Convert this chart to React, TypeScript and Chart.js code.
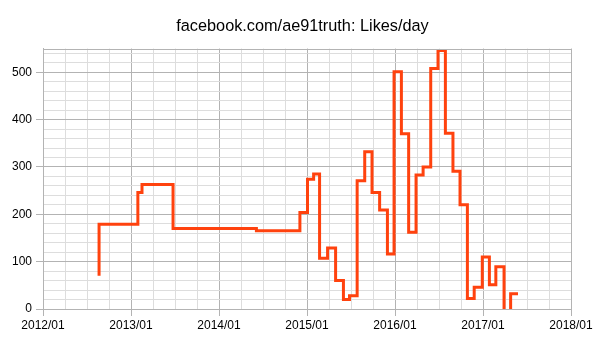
import React, { useEffect, useRef } from "react";
import { Chart, registerables } from "chart.js";

Chart.register(...registerables);

const chartTitle = "facebook.com/ae91truth: Likes/day";
const startYear = 2012;
const endYear = 2018;

// dates at the end of each measuring interval
const sampleDates = [
  "2012-08-21", "2013-01-30", "2013-02-15", "2013-06-23", "2014-06-04",
  "2014-12-02", "2015-01-03", "2015-01-29", "2015-02-21", "2015-03-26",
  "2015-04-28", "2015-05-31", "2015-06-25", "2015-07-27", "2015-08-28",
  "2015-09-27", "2015-10-29", "2015-11-30", "2015-12-28", "2016-01-28",
  "2016-02-26", "2016-03-28", "2016-04-26", "2016-05-28", "2016-06-27",
  "2016-07-28", "2016-08-29", "2016-09-27", "2016-10-28", "2016-11-25",
  "2016-12-29", "2017-01-28", "2017-02-22", "2017-03-28", "2017-04-24",
  "2017-05-25",
];

// likes per day over the interval ending at each date
const likesPerDay = [
  70, 179, 246, 263, 170,
  165, 204, 274, 285, 107,
  129, 60, 20, 28, 271,
  332, 246, 209, 116, 501,
  370, 162, 283, 300, 508,
  546, 371, 291, 220, 22,
  46, 110, 51, 89, -8,
  32,
];

const yMax = 550;

function toMonths(s: string): number {
  const [y, m, d] = s.split("-").map(Number);
  const dim = new Date(y, m, 0).getDate();
  return (y - startYear) * 12 + (m - 1) + (d - 1) / dim;
}

const MAJOR = "#b3b3b3";
const MINOR = "#dddddd";

const frameTop = {
  id: "frameTop",
  afterDraw(chart: any) {
    const { ctx, chartArea } = chart;
    ctx.save();
    ctx.strokeStyle = MAJOR;
    ctx.lineWidth = 1;
    const y = Math.round(chartArea.top) + 0.5;
    ctx.beginPath();
    ctx.moveTo(chartArea.left, y);
    ctx.lineTo(chartArea.right, y);
    ctx.stroke();
    ctx.restore();
  },
};

export default function App() {
  const ref = useRef<HTMLCanvasElement | null>(null);
  useEffect(() => {
    if (!ref.current) return;
    Chart.defaults.font.family = '"Liberation Sans", Arial, sans-serif';
    Chart.defaults.color = "#000";
    const points = sampleDates.map((d, i) => ({ x: toMonths(d), y: likesPerDay[i] }));
    const chart = new Chart(ref.current, {
      type: "line",
      data: {
        datasets: [
          {
            data: points,
            borderColor: "#ff420e",
            borderWidth: 3,
            pointRadius: 0,
            stepped: "after",
            fill: false,
          },
        ],
      },
      options: {
        animation: false,
        responsive: true,
        maintainAspectRatio: false,
        layout: { padding: 0 },
        plugins: {
          legend: { display: false },
          tooltip: { enabled: false },
          title: {
            display: true,
            text: chartTitle,
            color: "#000",
            font: { size: 16.3, weight: "normal" },
            padding: { top: 17, bottom: 12 },
          },
        },
        scales: {
          x: {
            type: "linear",
            min: 0,
            max: (endYear - startYear) * 12,
            afterFit: (s: any) => {
              s.height = 31;
            },
            ticks: {
              stepSize: 3,
              autoSkip: false,
              maxRotation: 0,
              minRotation: 0,
              padding: 2,
              font: { size: 12 },
              color: "#000",
              callback: (v: any) =>
                Number(v) % 12 === 0 ? `${startYear + Number(v) / 12}/01` : "",
            },
            grid: {
              color: (c: any) => (c.tick && c.tick.value % 12 === 0 ? MAJOR : MINOR),
              tickColor: (c: any) =>
                c.tick && c.tick.value % 12 === 0 ? MAJOR : "rgba(0,0,0,0)",
              tickLength: 7,
            },
            border: { display: true, color: MAJOR },
          },
          y: {
            type: "linear",
            min: 0,
            max: yMax,
            afterFit: (s: any) => {
              s.width = 43;
            },
            ticks: {
              stepSize: 20,
              includeBounds: false,
              autoSkip: false,
              padding: 4,
              font: { size: 12 },
              color: "#000",
              callback: (v: any) => (Number(v) % 100 === 0 ? String(v) : ""),
            },
            grid: {
              color: (c: any) => (c.tick && c.tick.value % 100 === 0 ? MAJOR : MINOR),
              tickColor: (c: any) =>
                c.tick && c.tick.value % 100 === 0 ? MAJOR : "rgba(0,0,0,0)",
              tickLength: 7,
            },
            border: { display: true, color: MAJOR },
          },
          yRight: {
            type: "linear",
            position: "right",
            display: true,
            min: 0,
            max: yMax,
            afterFit: (s: any) => {
              s.width = 34;
            },
            ticks: { display: false },
            grid: { display: false, drawTicks: false },
            border: { display: false },
          },
        },
      },
      plugins: [frameTop],
    });
    return () => chart.destroy();
  }, []);
  return (
    <div style={{ position: "fixed", left: 0, top: 0, width: 605, height: 340, background: "#fff" }}>
      <canvas ref={ref} />
    </div>
  );
}
